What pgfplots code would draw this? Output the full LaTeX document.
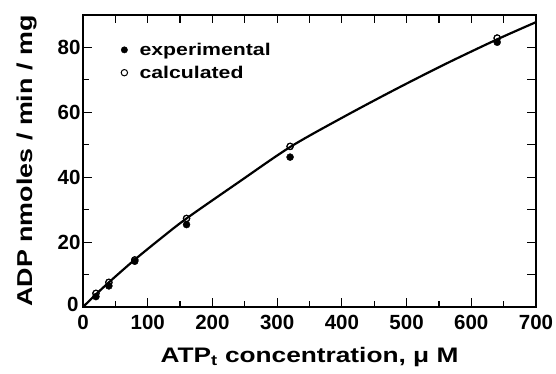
\documentclass[border=0pt]{standalone}
\usepackage{pgfplots}
\pgfplotsset{compat=1.18}
\usepackage{fontspec}
\setmainfont{Liberation Sans}
\newfontfamily\labelfont[FakeStretch=1.25]{Liberation Sans}
\begin{document}
\begin{tikzpicture}[x=1pt,y=1pt]
\begin{axis}[
  scale only axis,
  at={(0,0)}, anchor=south west,
  width=453pt, height=292pt,
  xmin=0, xmax=700, ymin=0, ymax=90,
  xtick={0,100,...,700}, minor xtick={50,150,...,650},
  ytick={20,40,...,80}, minor ytick={10,30,...,70},
  extra y ticks={0},
  extra y tick style={yticklabel style={yshift=3pt, xshift=-2pt}},
  tick align=inside,
  major tick length=9pt, minor tick length=6pt,
  xtick pos=left, ytick pos=left,
  axis line style={line width=1.6pt},
  every tick/.style={line width=1.2pt, black},
  ticklabel style={font=\bfseries\fontsize{20.5}{20.5}\selectfont},
  xticklabel style={yshift=-5pt},
  yticklabel style={xshift=1pt},
  /pgf/number format/assume math mode=true,
  xlabel={ATP\textsubscript{t} concentration, μ M},
  ylabel={ADP nmoles / min / mg},
  xlabel style={font=\labelfont\bfseries\fontsize{21}{21}\selectfont, yshift=-10pt},
  ylabel style={font=\labelfont\bfseries\fontsize{21.5}{21.5}\selectfont, yshift=14pt},
  legend style={draw=none, fill=none, at={(axis cs:59,82)}, anchor=north west,
    inner sep=0pt, outer sep=0pt,
    font=\labelfont\bfseries\fontsize{17}{17}\selectfont, row sep=5pt,
    /tikz/every odd column/.append style={column sep=10pt}},
  legend image code/.code={\draw[#1, mark size=3.2pt] plot coordinates {(0pt,0pt)};},
  legend cell align=left,
  clip=false,
]
% extra ticks on top and right
\pgfplotsinvokeforeach{50,100,...,650}{
  \draw[line width=1.2pt] (axis cs:#1,90) -- ++(0,-8pt);
}
\pgfplotsinvokeforeach{10,20,...,80}{
  \draw[line width=1.2pt] (axis cs:700,#1) -- ++(-9pt,0);
}
\addplot[only marks, mark=*, mark size=3.5pt, mark options={fill=black, draw=black}]
  coordinates {(20,3.2) (40,6.5) (80,14.1) (160,25.4) (320,46.2) (640,81.6)};
\addlegendentry{experimental}
\addplot[only marks, mark=o, mark size=3.2pt, mark options={fill=white, draw=black, line width=1pt}]
  coordinates {(20,4.2) (40,7.6) (80,14.5) (160,27.3) (320,49.5) (640,82.9)};
\addlegendentry{calculated}
\addplot[smooth, line width=2.2pt, black, forget plot]
  coordinates {(0,0) (20,3.9) (40,7.6) (80,14.6) (120,21.1) (160,27.3) (240,38.4)
   (320,49.3) (400,58.3) (480,66.8) (560,74.9) (640,82.5) (700,87.8)};
% redraw open markers over the line
\addplot[only marks, mark=o, mark size=3.2pt, mark options={fill=white, draw=black, line width=1pt}, forget plot]
  coordinates {(20,4.2) (40,7.6) (80,14.5) (160,27.3) (320,49.5) (640,82.9)};
\end{axis}
\pgfresetboundingbox
\useasboundingbox (-83pt,-66pt) rectangle (473pt,307pt);
\end{tikzpicture}
\end{document}
